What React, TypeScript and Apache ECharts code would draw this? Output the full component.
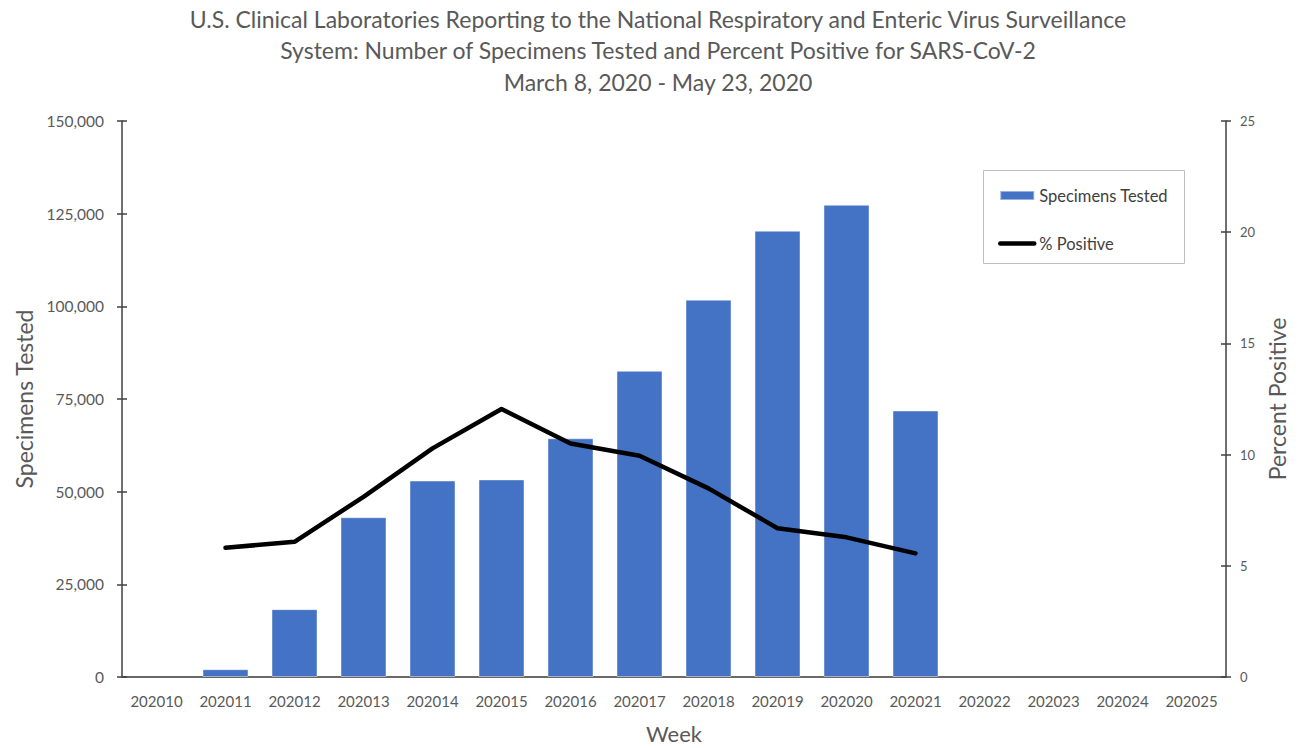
import React, { useEffect, useRef } from "react";
import * as echarts from "echarts";

const weeks = ["202010","202011","202012","202013","202014","202015","202016","202017","202018","202019","202020","202021","202022","202023","202024","202025"];
const specimensTested: (number | null)[] = [null, 2100, 18300, 43100, 53000, 53300, 64400, 82600, 101800, 120400, 127400, 71900, null, null, null, null];
const percentPositive: (number | null)[] = [null, 5.81, 6.08, 8.1, 10.28, 12.05, 10.5, 9.95, 8.48, 6.69, 6.28, 5.56, null, null, null, null];
const titleLines = [
  "U.S. Clinical Laboratories Reporting to the National Respiratory and Enteric Virus Surveillance",
  "System: Number of Specimens Tested and Percent Positive for SARS-CoV-2",
  "March 8, 2020 - May 23, 2020",
];

const FONT = "Lato";
const TXT = "#595959";
const AX = "#404040";

export default function App() {
  const ref = useRef<HTMLDivElement>(null);
  useEffect(() => {
    if (!ref.current) return;
    const chart = echarts.init(ref.current, null, { renderer: "svg" });
    const leftBase = { min: 0, max: 150000, interval: 25000 };
    const rightBase = { min: 0, max: 25, interval: 5 };
    chart.setOption({
      animation: false,
      backgroundColor: "#fff",
      textStyle: { fontFamily: FONT },
      title: titleLines.map((t, i) => ({
        text: t,
        left: "center",
        top: 7 + i * 31.5,
        padding: 0,
        textStyle: { fontFamily: FONT, fontSize: 23, fontWeight: "normal", color: TXT },
      })),
      legend: {
        orient: "vertical",
        left: 993,
        top: 182,
        padding: 5,
        itemGap: 31,
        itemWidth: 34,
        itemHeight: 9,
        textStyle: { fontFamily: FONT, fontSize: 16.5, color: "#404040" },
        data: [
          { name: "Specimens Tested", icon: "rect" },
          { name: "% Positive", itemStyle: { opacity: 0 }, lineStyle: { width: 4.5, color: "#000" } },
        ],
      },
      graphic: [
        {
          type: "rect",
          shape: { x: 983.5, y: 170.5, width: 201, height: 93 },
          style: { fill: "none", stroke: "#bfbfbf", lineWidth: 1 },
          silent: true,
          z: 10,
        },
      ],
      grid: { left: 122, right: 90, top: 121, bottom: 71, containLabel: false, outerBoundsMode: "none" },
      xAxis: [
        {
          type: "category",
          data: weeks,
          position: "bottom",
          name: "Week",
          nameLocation: "middle",
          nameGap: 45,
          nameTextStyle: { fontFamily: FONT, fontSize: 22, color: TXT },
          axisLine: { lineStyle: { color: "#d9d9d9", width: 1.5 } },
          axisTick: { show: false },
          axisLabel: { fontFamily: FONT, fontSize: 15, color: TXT, margin: 16, interval: 0 },
        },
        {
          type: "category",
          data: weeks,
          position: "top",
          axisLine: { lineStyle: { color: AX, width: 1.5 } },
          axisTick: { show: false },
          axisLabel: { show: false },
        },
      ],
      yAxis: [
        {
          type: "value",
          position: "left",
          ...leftBase,
          name: "Specimens Tested",
          nameLocation: "middle",
          nameGap: 83,
          nameTextStyle: { fontFamily: FONT, fontSize: 23, color: TXT },
          axisLine: { show: true, lineStyle: { color: AX, width: 1.5 } },
          axisTick: { show: true, length: 5, lineStyle: { color: AX, width: 1.5 } },
          axisLabel: {
            fontFamily: FONT, fontSize: 15.5, color: TXT, margin: 18,
            formatter: (v: number) => v.toLocaleString("en-US"),
          },
          splitLine: { show: false },
        },
        {
          type: "value",
          position: "right",
          ...rightBase,
          name: "Percent Positive",
          nameLocation: "middle",
          nameGap: 28,
          nameTextStyle: { fontFamily: FONT, fontSize: 23, color: TXT },
          axisLine: { show: true, lineStyle: { color: AX, width: 1.5 } },
          axisTick: { show: true, length: 5, lineStyle: { color: AX, width: 1.5 } },
          axisLabel: { fontFamily: FONT, fontSize: 13, color: TXT, margin: 14 },
          splitLine: { show: false },
        },
        {
          type: "value",
          position: "left",
          ...leftBase,
          axisLine: { show: false },
          axisTick: { show: true, inside: true, length: 5, lineStyle: { color: AX, width: 1.5 } },
          axisLabel: { show: false },
          splitLine: { show: false },
        },
        {
          type: "value",
          position: "right",
          ...rightBase,
          axisLine: { show: false },
          axisTick: { show: true, inside: true, length: 5, lineStyle: { color: AX, width: 1.5 } },
          axisLabel: { show: false },
          splitLine: { show: false },
        },
      ],
      series: [
        {
          name: "Specimens Tested",
          type: "bar",
          xAxisIndex: 0,
          yAxisIndex: 0,
          data: specimensTested,
          barWidth: 46,
          itemStyle: { color: "#4472C4", borderColor: "rgba(255,255,255,0.45)", borderWidth: 1 },
        },
        {
          name: "% Positive",
          type: "line",
          xAxisIndex: 0,
          yAxisIndex: 1,
          data: percentPositive,
          symbol: "none",
          connectNulls: false,
          lineStyle: { color: "#000", width: 4.5, join: "round", cap: "round" },
          itemStyle: { color: "#000" },
          z: 5,
        },
      ],
    });
    return () => chart.dispose();
  }, []);
  return (
    <div
      ref={ref}
      style={{ position: "fixed", left: 0, top: 0, width: 1316, height: 748 }}
    />
  );
}
